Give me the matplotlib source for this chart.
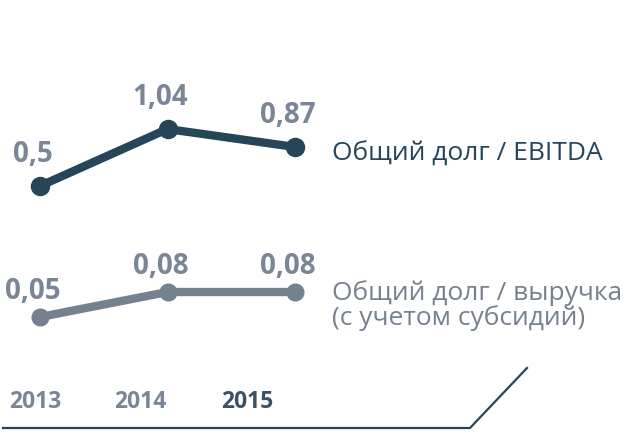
import matplotlib.pyplot as plt
from matplotlib.lines import Line2D

# data
years = ["2013", "2014", "2015"]
ebitda = [0.5, 1.04, 0.87]
ebitda_labels = ["0,5", "1,04", "0,87"]
revenue = [0.05, 0.08, 0.08]
revenue_labels = ["0,05", "0,08", "0,08"]

NAVY = "#264559"
GREY = "#76818f"
LABEL = "#7a8595"

W, H = 625, 438
fig = plt.figure(figsize=(W / 100, H / 100), dpi=100)
fig.patch.set_facecolor("white")


def ax_at(x0, x1, ytop, ybot):
    # pixel box -> figure fraction
    return fig.add_axes([x0 / W, 1 - ybot / H, (x1 - x0) / W, (ybot - ytop) / H])


xs = list(range(len(years)))

# top chart: debt / EBITDA
ax1 = ax_at(40, 295, 100, 220)
ax1.set_xlim(0, 2)
ax1.set_ylim(0.178, 1.315)
ax1.plot(xs, ebitda, color=NAVY, lw=6, marker="o", ms=13, clip_on=False,
         solid_capstyle="round")
for x, v, t in zip(xs, ebitda, ebitda_labels):
    ax1.annotate(t, (x, v), xytext=(-5, 12), textcoords="offset points",
                 ha="center", va="bottom", fontsize=20, fontweight="bold",
                 color=LABEL, family="Open Sans")
ax1.axis("off")

# bottom chart: debt / revenue
ax2 = ax_at(40, 295, 270, 340)
ax2.set_xlim(0, 2)
ax2.set_ylim(0.0224, 0.1064)
ax2.plot(xs, revenue, color=GREY, lw=6, marker="o", ms=12, clip_on=False,
         solid_capstyle="round")
for x, v, t in zip(xs, revenue, revenue_labels):
    ax2.annotate(t, (x, v), xytext=(-5, 8), textcoords="offset points",
                 ha="center", va="bottom", fontsize=20, fontweight="bold",
                 color=LABEL, family="Open Sans")
ax2.axis("off")

# series names
fig.text(332 / W, 1 - 154 / H, "Общий долг / EBITDA", ha="left", va="center",
         fontsize=19, color=NAVY, family="Open Sans")
fig.text(332 / W, 1 - 306 / H, "Общий долг / выручка\n(с учетом субсидий)",
         ha="left", va="center", fontsize=19, color=GREY, family="Open Sans",
         linespacing=0.95)

# years
year_x = [35, 140, 247]
year_col = [LABEL, LABEL, "#3d5166"]
for x, y, c in zip(year_x, years, year_col):
    fig.text(x / W, 1 - 402 / H, y, ha="center", va="center", fontsize=16.5,
             fontweight="bold", color=c, family="Open Sans")

# baseline with diagonal
fig.add_artist(Line2D([3 / W, 470 / W, 527 / W],
                      [1 - 428 / H, 1 - 428 / H, 1 - 368 / H],
                      color=NAVY, lw=1.6, transform=fig.transFigure))

fig.savefig("out.png", dpi=100)
